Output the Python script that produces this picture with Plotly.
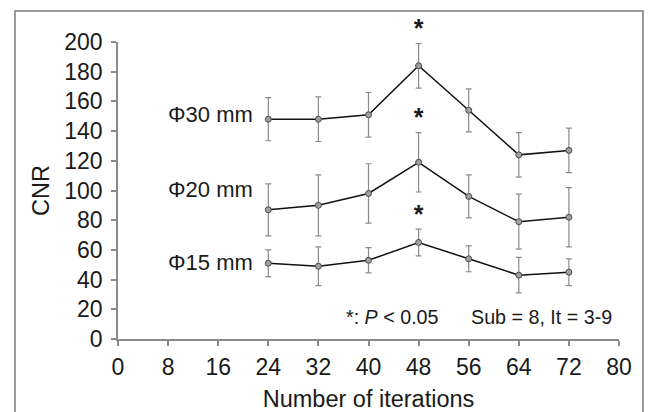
import plotly.graph_objects as go

iterations = [24, 32, 40, 48, 56, 64, 72]
cnr_30 = [148, 148, 151, 184, 154, 124, 127]
sd_30 = [14.5, 15, 15, 15, 14.5, 15, 15]
cnr_20 = [87, 90, 98, 119, 96, 79, 82]
sd_20 = [17.5, 20.5, 20, 20, 14.5, 18.5, 20]
cnr_15 = [51, 49, 53, 65, 54, 43, 45]
sd_15 = [9, 13, 8.5, 9, 8.7, 12, 9]

series_labels = ["Φ30 mm", "Φ20 mm", "Φ15 mm"]
label_y = [151, 101, 51.5]
sig_iteration = 48  # significant difference (*) at this iteration for all three sizes

x_ticks = [0, 8, 16, 24, 32, 40, 48, 56, 64, 72, 80]
y_ticks = [0, 20, 40, 60, 80, 100, 120, 140, 160, 180, 200]

FONT = "Liberation Sans, Arial, sans-serif"
TXT = "#1a1a1a"
GRAY = "#8a8a8a"

fig = go.Figure()
all_series = [(cnr_30, sd_30), (cnr_20, sd_20), (cnr_15, sd_15)]
for vals, sds in all_series:
    fig.add_trace(go.Scatter(
        x=iterations, y=vals, mode="lines+markers",
        line=dict(color="#111111", width=1.5),
        marker=dict(size=6, color="#a0a0a0", line=dict(color="#4a4a4a", width=1)),
        error_y=dict(type="data", array=sds, visible=True, color=GRAY, thickness=1.2, width=3),
        showlegend=False, cliponaxis=False,
    ))

# asterisks just above the upper error bar at the significant iteration
k = iterations.index(sig_iteration)
sig_x = [sig_iteration] * len(all_series)
sig_y = [vals[k] + sds[k] for vals, sds in all_series]
fig.add_trace(go.Scatter(
    x=sig_x, y=sig_y, mode="text", text=["<b>*</b>"] * len(sig_x), textposition="top center",
    textfont=dict(family=FONT, size=25, color=TXT), showlegend=False, cliponaxis=False,
    hoverinfo="skip",
))

for lab, ly in zip(series_labels, label_y):
    fig.add_annotation(x=21.9, y=ly, text=lab, showarrow=False, xanchor="right", yanchor="middle",
                       font=dict(family=FONT, size=22, color=TXT))

fig.add_annotation(x=43.8, y=15, text="*: <i>P</i> < 0.05", showarrow=False, xanchor="center",
                   yanchor="middle", font=dict(family=FONT, size=19.7, color=TXT))
fig.add_annotation(x=67.6, y=15, text="Sub = 8, It = 3-9", showarrow=False, xanchor="center",
                   yanchor="middle", font=dict(family=FONT, size=19.7, color=TXT))

# outer frame
fig.add_shape(type="rect", xref="paper", yref="paper", x0=-0.2056, x1=1.0479, y0=-0.30, y1=1.1044,
              line=dict(color="#7a7a7a", width=1.5), fillcolor="rgba(0,0,0,0)", layer="below")

fig.update_layout(
    width=648, height=412,
    margin=dict(l=118, r=29, t=42, b=73, autoexpand=False),
    paper_bgcolor="white", plot_bgcolor="white",
    font=dict(family=FONT, color=TXT),
    xaxis=dict(range=[0, 80], tickvals=x_ticks, ticks="outside", ticklen=5, tickcolor=GRAY,
               tickwidth=1.5, showline=True, linecolor=GRAY, linewidth=1.5, showgrid=False,
               zeroline=False, tickfont=dict(size=23, color=TXT), ticklabelstandoff=2,
               automargin=False,
               title=dict(text="Number of iterations", font=dict(size=23.5, color=TXT), standoff=20)),
    yaxis=dict(range=[0, 200], tickvals=y_ticks, ticks="outside", ticklen=5, tickcolor=GRAY,
               tickwidth=1.5, showline=True, linecolor=GRAY, linewidth=1.5, showgrid=False,
               zeroline=False, tickfont=dict(size=23, color=TXT), ticklabelstandoff=4,
               automargin=False,
               title=dict(text="CNR", font=dict(size=23.5, color=TXT), standoff=8)),
)

fig.write_html("out.html")
